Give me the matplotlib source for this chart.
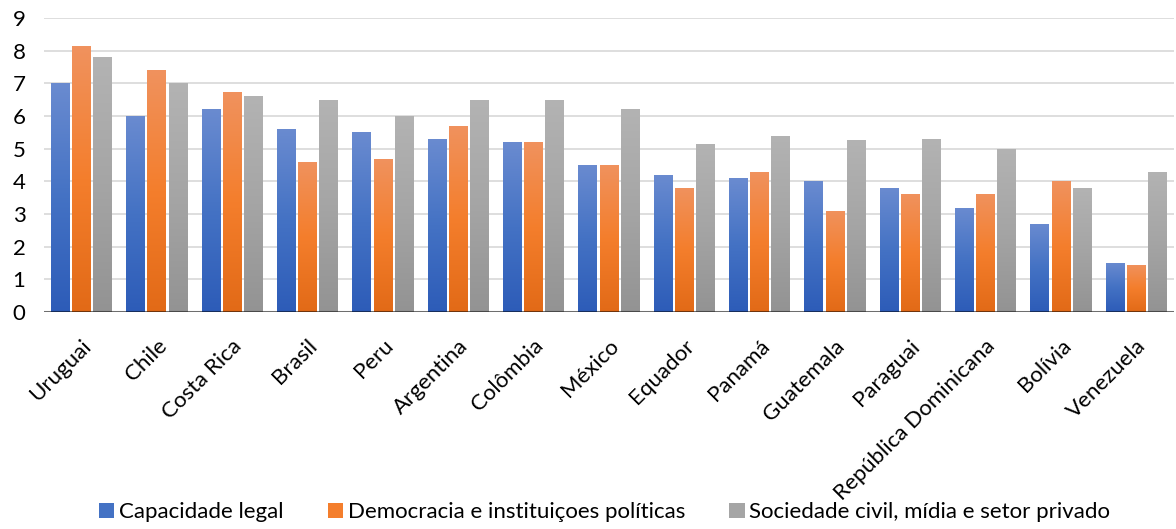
import matplotlib.pyplot as plt
import numpy as np
from matplotlib.colors import LinearSegmentedColormap
from matplotlib.patches import Patch

# Índices por país (escala 0-10)
paises = ['Uruguai', 'Chile', 'Costa Rica', 'Brasil', 'Peru', 'Argentina', 'Colômbia',
          'México', 'Equador', 'Panamá', 'Guatemala', 'Paraguai',
          'República Dominicana', 'Bolívia', 'Venezuela']
capacidade_legal = [7.0, 6.0, 6.2, 5.6, 5.5, 5.3, 5.2, 4.5, 4.2, 4.1, 4.0, 3.8, 3.2, 2.7, 1.5]
democracia = [8.13, 7.4, 6.72, 4.6, 4.67, 5.7, 5.2, 4.5, 3.8, 4.3, 3.1, 3.62, 3.62, 4.0, 1.45]
sociedade_civil = [7.8, 7.0, 6.6, 6.5, 6.0, 6.5, 6.5, 6.2, 5.15, 5.4, 5.28, 5.3, 5.0, 3.8, 4.3]

series = [
    ('Capacidade legal', capacidade_legal, ['#6a8bd0', '#4472c4', '#2d5cb8']),
    ('Democracia e instituiçoes políticas', democracia, ['#f0925e', '#f47e2c', '#e26a17']),
    ('Sociedade civil, mídia e setor privado', sociedade_civil, ['#b3b3b3', '#a5a5a5', '#939393']),
]

plt.rcParams['font.family'] = ['Lato', 'DejaVu Sans']
fs = 16

fig = plt.figure(figsize=(11.76, 5.29), dpi=100)
ax = fig.add_axes([0.037, 0.41, 0.961, 0.556])

x = np.arange(len(paises))
largura = 0.24
passo = 0.28
grad = np.linspace(1, 0, 256).reshape(-1, 1)

for i, (nome, valores, cores) in enumerate(series):
    cmap = LinearSegmentedColormap.from_list(nome, cores[::-1])
    barras = ax.bar(x + (i - 1) * passo, valores, largura, color='none',
                    edgecolor='none', zorder=2)
    # preenchimento em degradê dentro de cada barra
    for b in barras:
        x0, y0 = b.get_x(), b.get_y()
        im = ax.imshow(grad, cmap=cmap, aspect='auto', zorder=2,
                       extent=[x0, x0 + b.get_width(), y0, y0 + b.get_height()],
                       interpolation='bilinear')
        im.set_clip_path(b)

ax.set_xlim(-0.5, len(paises) - 0.5)
ax.set_ylim(0, 9)
ax.set_yticks(range(0, 10))
ax.yaxis.grid(True, color='#dedede', linewidth=1.4, zorder=0)
ax.set_axisbelow(True)
ax.axhline(0, color='black', alpha=0.5, linewidth=2.2, zorder=3)
for s in ax.spines.values():
    s.set_visible(False)

ax.set_xticks(x)
ax.set_xticklabels(paises, rotation=45, ha='right', rotation_mode='anchor')
ax.tick_params(axis='both', length=0, labelsize=fs, colors='black')
ax.tick_params(axis='y', pad=13)
ax.tick_params(axis='x', pad=17)

handles = [Patch(facecolor=c[1], label=n) for n, _, c in series]
fig.legend(handles=handles, loc='lower center', bbox_to_anchor=(0.514, -0.025), ncol=3,
           frameon=False, fontsize=fs, handlelength=0.7, handleheight=0.7,
           handletextpad=0.2, columnspacing=2.0)

fig.savefig('out.png', dpi=100)
